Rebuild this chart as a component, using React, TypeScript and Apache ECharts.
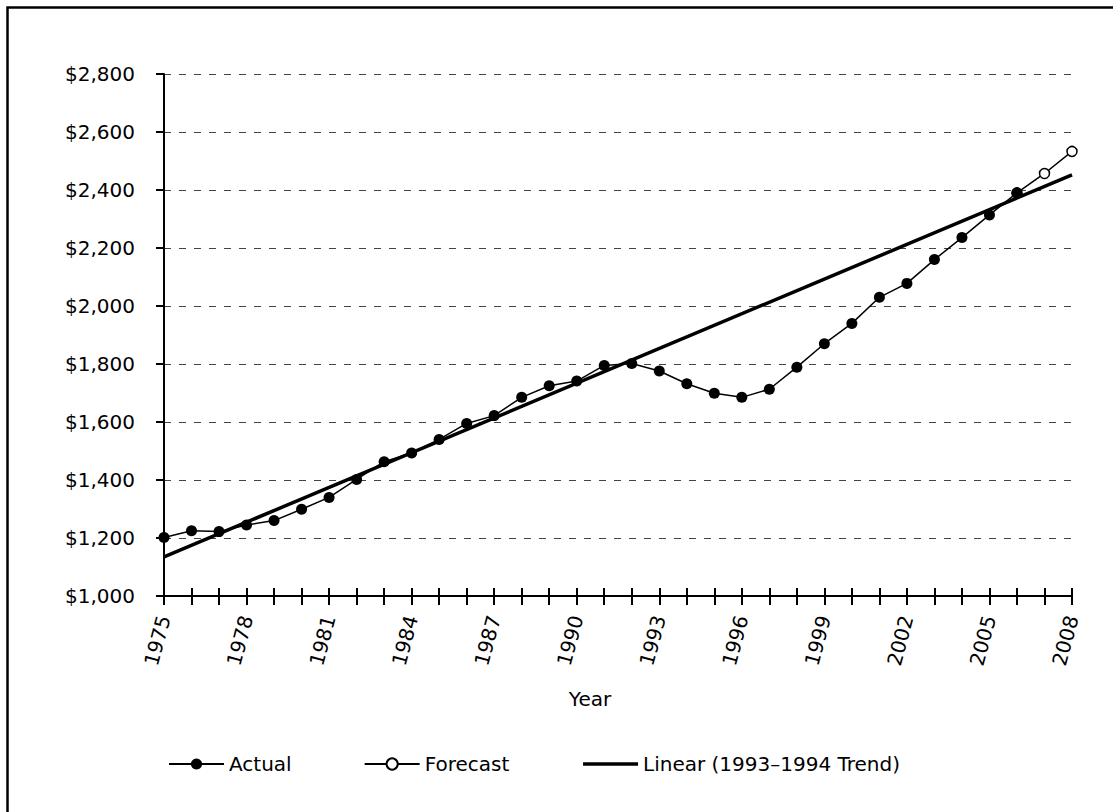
import React, { useEffect, useRef } from "react";
import * as echarts from "echarts";

const years: string[] = [
  "1975", "1976", "1977", "1978", "1979", "1980", "1981", "1982", "1983", "1984",
  "1985", "1986", "1987", "1988", "1989", "1990", "1991", "1992", "1993", "1994",
  "1995", "1996", "1997", "1998", "1999", "2000", "2001", "2002", "2003", "2004",
  "2005", "2006", "2007", "2008",
];

const actualYears: string[] = years.slice(0, 32);
const actualValues: number[] = [
  1202, 1225, 1222, 1245, 1260, 1299, 1340, 1402, 1463, 1493,
  1540, 1595, 1622, 1685, 1725, 1741, 1795, 1802, 1776, 1732,
  1699, 1685, 1713, 1789, 1870, 1940, 2030, 2078, 2160, 2236,
  2314, 2390,
];

const forecastYears: string[] = ["2006", "2007", "2008"];
const forecastValues: number[] = [2390, 2457, 2533];

const trendYears: string[] = ["1975", "2008"];
const trendValues: number[] = [1135, 2452];

const seriesNames: string[] = ["Actual", "Forecast", "Linear (1993\u20131994 Trend)"];

const FONT = "DejaVu Sans";

export default function App() {
  const ref = useRef<HTMLDivElement>(null);

  useEffect(() => {
    if (!ref.current) return;
    const chart = echarts.init(ref.current, undefined, { renderer: "svg" });
    const pair = (xs: string[], vs: number[]) => xs.map((x, i) => [x, vs[i]]);

    chart.setOption({
      animation: false,
      backgroundColor: "#ffffff",
      grid: { left: 164, right: 41, top: 74, bottom: 216, containLabel: false },
      legend: {
        data: [
          { name: seriesNames[0] },
          { name: seriesNames[1] },
          { name: seriesNames[2], itemStyle: { opacity: 0 }, lineStyle: { width: 3.5, color: "#000" } },
        ],
        left: 163,
        top: 749,
        itemWidth: 55,
        itemHeight: 14,
        itemGap: 72,
        textStyle: { fontFamily: FONT, fontSize: 20, color: "#000" },
      },
      xAxis: [
        {
          type: "category",
          data: years,
          boundaryGap: false,
          axisLine: { show: true, lineStyle: { color: "#000", width: 2 } },
          axisTick: { show: true, interval: 0, length: 9, lineStyle: { color: "#000", width: 2 } },
          axisLabel: {
            interval: 2,
            rotate: 75,
            margin: 20,
            fontFamily: FONT,
            fontSize: 20,
            color: "#000",
          },
          splitLine: { show: false },
        },
        {
          type: "category",
          data: years,
          boundaryGap: false,
          position: "bottom",
          axisLine: { show: false },
          axisTick: { show: true, inside: true, interval: 0, length: 8, lineStyle: { color: "#000", width: 2 } },
          axisLabel: { show: false },
          splitLine: { show: false },
        },
      ],
      yAxis: {
        type: "value",
        min: 1000,
        max: 2800,
        interval: 200,
        axisLine: { show: true, lineStyle: { color: "#000", width: 2 } },
        axisTick: { show: true, length: 8, lineStyle: { color: "#000", width: 2 } },
        axisLabel: {
          margin: 29,
          fontFamily: FONT,
          fontSize: 20,
          color: "#000",
          formatter: (v: number) => "$" + v.toLocaleString("en-US"),
        },
        splitLine: { show: true, lineStyle: { color: "#444", width: 1, type: [7, 8] } },
      },
      series: [
        {
          name: seriesNames[1],
          type: "line",
          data: pair(forecastYears, forecastValues),
          symbol: "circle",
          symbolSize: 10,
          lineStyle: { color: "#000", width: 1.5 },
          itemStyle: { color: "#fff", borderColor: "#000", borderWidth: 1.5 },
        },
        {
          name: seriesNames[0],
          type: "line",
          data: pair(actualYears, actualValues),
          symbol: "circle",
          symbolSize: 11,
          lineStyle: { color: "#000", width: 1.5 },
          itemStyle: { color: "#000" },
        },
        {
          name: seriesNames[2],
          type: "line",
          data: pair(trendYears, trendValues),
          symbol: "none",
          showSymbol: false,
          lineStyle: { color: "#000", width: 3.5 },
          itemStyle: { color: "#000" },
        },
      ],
      graphic: [
        {
          type: "rect",
          shape: { x: 7.5, y: 7.5, width: 1300, height: 1000 },
          style: { fill: "none", stroke: "#000", lineWidth: 2.5 },
          silent: true,
        },
        {
          type: "text",
          x: 590,
          y: 699,
          style: {
            text: "Year",
            fontFamily: FONT,
            fontSize: 20,
            fill: "#000",
            align: "center",
            verticalAlign: "middle",
          },
        },
      ],
    });
    return () => chart.dispose();
  }, []);

  return (
    <div
      ref={ref}
      style={{ position: "absolute", left: 0, top: 0, width: 1113, height: 812, background: "#fff" }}
    />
  );
}
